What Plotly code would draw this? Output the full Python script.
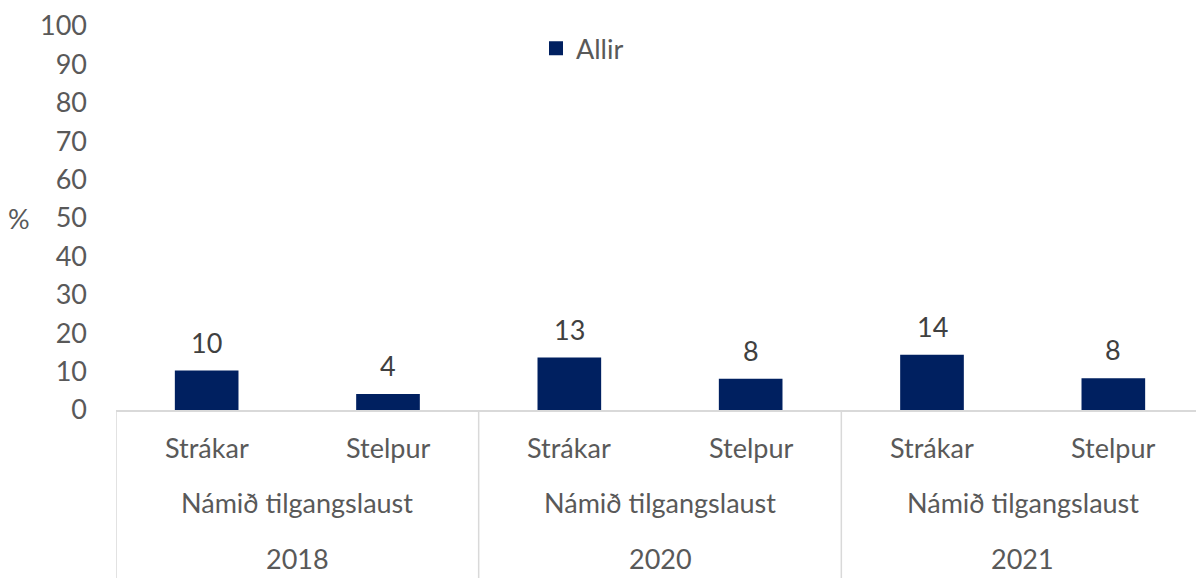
import plotly.graph_objects as go

years = ["2018", "2020", "2021"]
group_label = "Námið tilgangslaust"
sexes = ["Strákar", "Stelpur"]
values = [10.0, 3.9, 13.4, 7.9, 14.1, 8.0]
series_name = "Allir"
y_ticks = [0, 10, 20, 30, 40, 50, 60, 70, 80, 90, 100]

FONT = "Lato"
FS = 27
GRAY = "#595959"
BAR = "#002060"

# page body has an 8px margin; plot area targeted at screen x 116..1204, y 21..410
PX0, PY0, PW, PH = 116, 21, 1088, 389


def px(x):
    return (x - PX0) / PW


def py(y):
    return (PY0 + PH - y) / PH


xs = list(range(len(values)))
sex_labels = [sexes[i % 2] for i in xs]

fig = go.Figure()
fig.add_trace(go.Bar(x=xs, y=values, name=series_name, marker_color=BAR,
                     marker_line=dict(color=BAR, width=2),
                     width=0.34, showlegend=True))

annotations = []
for x, v in zip(xs, values):
    annotations.append(dict(x=x, y=v, xref="x", yref="y", text=f"{v:.0f}",
                            showarrow=False, yanchor="bottom", yshift=11,
                            font=dict(family=FONT, size=FS, color="#404040")))
for x, s in zip(xs, sex_labels):
    annotations.append(dict(x=x, y=py(448), xref="x", yref="paper", text=s,
                            showarrow=False, yanchor="middle",
                            font=dict(family=FONT, size=FS, color=GRAY)))
for g, yr in enumerate(years):
    cx = 2 * g + 0.5
    annotations.append(dict(x=cx, y=py(504), xref="x", yref="paper", text=group_label,
                            showarrow=False, yanchor="middle",
                            font=dict(family=FONT, size=FS, color=GRAY)))
    annotations.append(dict(x=cx, y=py(560), xref="x", yref="paper", text=yr,
                            showarrow=False, yanchor="middle",
                            font=dict(family=FONT, size=FS, color=GRAY)))
annotations.append(dict(x=px(19), y=py(216), xref="paper", yref="paper", text="%",
                        showarrow=False, xanchor="center", yanchor="middle",
                        font=dict(family=FONT, size=FS, color=GRAY)))

shapes = []
for b in [-0.5, 1.5, 3.5, 5.5]:
    shapes.append(dict(type="line", xref="x", yref="paper", x0=b, x1=b, y0=0, y1=-0.45,
                       line=dict(color="#d9d9d9", width=1.5)))

fig.update_layout(
    width=1196, height=570,
    margin=dict(l=108, r=0, t=13, b=168),
    paper_bgcolor="white", plot_bgcolor="white",
    font=dict(family=FONT, size=FS, color=GRAY),
    xaxis=dict(range=[-0.5, 5.5], showticklabels=False, showgrid=False, zeroline=False,
               showline=True, linecolor="#d9d9d9", linewidth=1.5, ticks=""),
    yaxis=dict(range=[0, 100], tickvals=y_ticks, showgrid=False, zeroline=False,
               showline=False, ticks="", ticklabelstandoff=28,
               ticklabeloverflow="allow",
               tickfont=dict(family=FONT, size=FS, color=GRAY)),
    legend=dict(x=px(536), y=py(44), xanchor="left", yanchor="middle",
                orientation="h", font=dict(family=FONT, size=FS, color=GRAY),
                bgcolor="rgba(0,0,0,0)", itemwidth=30),
    annotations=annotations,
    shapes=shapes,
    showlegend=True,
)

fig.write_html("out.html")
